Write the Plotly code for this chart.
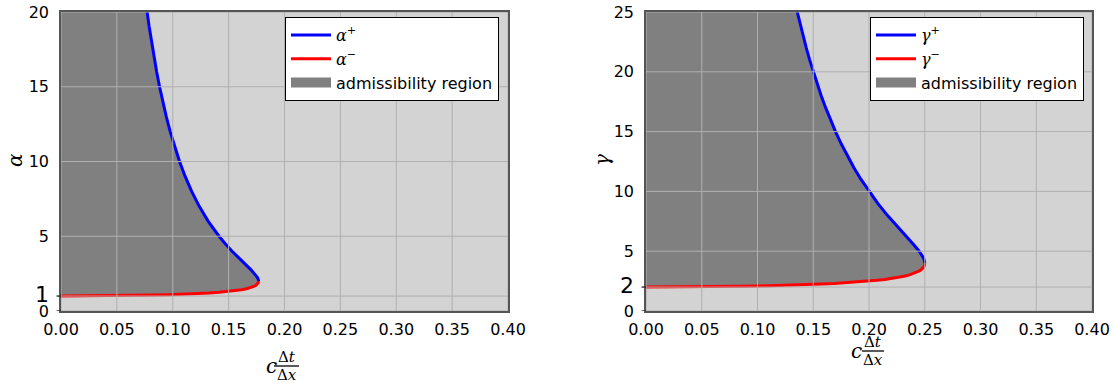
import plotly.graph_objects as go

# ---------------- data ----------------
# left panel: alpha^- (lower branch) and alpha^+ (upper branch) vs c*dt/dx
c_alpha_minus = [0.0, 0.01763, 0.03501, 0.05187, 0.06799, 0.08319, 0.09731, 0.11024,
                 0.12191, 0.13231, 0.14142, 0.14930, 0.15598, 0.16155, 0.16610, 0.16971,
                 0.17247, 0.17447, 0.17580, 0.17655, 0.17678]
alpha_minus = [1.0, 1.0025, 1.01, 1.0225, 1.04, 1.0625, 1.09, 1.1225, 1.16, 1.2025, 1.25,
               1.3025, 1.36, 1.4225, 1.49, 1.5625, 1.64, 1.7225, 1.81, 1.9025, 2.0]
c_alpha_plus = [0.17678, 0.17673, 0.17658, 0.17568, 0.17320, 0.17007, 0.16667, 0.15972,
                0.15309, 0.14699, 0.14142, 0.13176, 0.12372, 0.11693, 0.11111, 0.10607,
                0.10164, 0.09772, 0.09421, 0.09105, 0.08819, 0.08558, 0.08319, 0.08099,
                0.07895, 0.07706]
alpha_plus = [2.0, 2.05, 2.1, 2.25, 2.5, 2.75, 3.0, 3.5, 4.0, 4.5, 5.0, 6.0, 7.0, 8.0, 9.0,
              10.0, 11.0, 12.0, 13.0, 14.0, 15.0, 16.0, 17.0, 18.0, 19.0, 20.0]

# right panel: gamma^- and gamma^+ vs c*dt/dx
c_gamma_minus = [0.0, 0.01766, 0.03518, 0.05244, 0.06932, 0.08571, 0.10150, 0.11660,
                 0.13095, 0.14447, 0.15713, 0.16891, 0.17977, 0.18973, 0.19878, 0.20696,
                 0.21427, 0.22077, 0.22648, 0.23144, 0.23570, 0.23931, 0.24231, 0.24475,
                 0.24666, 0.24811, 0.24912, 0.24973, 0.24999, 0.25]
gamma_minus = [2.0, 2.0025, 2.01, 2.0225, 2.04, 2.0625, 2.09, 2.1225, 2.16, 2.2025, 2.25,
               2.3025, 2.36, 2.4225, 2.49, 2.5625, 2.64, 2.7225, 2.81, 2.9025, 3.0, 3.1025,
               3.21, 3.3225, 3.44, 3.5625, 3.69, 3.8225, 3.96, 4.0]
c_gamma_plus = [0.25, 0.24957, 0.24845, 0.24495, 0.24053, 0.23570, 0.22588, 0.21651,
                0.20787, 0.2, 0.19285, 0.18634, 0.18040, 0.17496, 0.16997, 0.16536,
                0.16109, 0.15713, 0.15345, 0.15, 0.14677, 0.14374, 0.14089, 0.13819, 0.13565]
gamma_plus = [4.0, 4.25, 4.5, 5.0, 5.5, 6.0, 7.0, 8.0, 9.0, 10.0, 11.0, 12.0, 13.0, 14.0,
              15.0, 16.0, 17.0, 18.0, 19.0, 20.0, 21.0, 22.0, 23.0, 24.0, 25.0]

x_ticks = [0.0, 0.05, 0.10, 0.15, 0.20, 0.25, 0.30, 0.35, 0.40]
x_ticklabels = ["0.00", "0.05", "0.10", "0.15", "0.20", "0.25", "0.30", "0.35", "0.40"]
alpha_ticks = [0, 1, 5, 10, 15, 20]
gamma_ticks = [0, 2, 5, 10, 15, 20, 25]
alpha_marked = [0, 1]
gamma_marked = [0, 2]
alpha_max = 20
gamma_max = 25

# ---------------- styling ----------------
W, H = 1114, 383
BG = "#d3d3d3"
FILL = "#808080"
GRID = "#b0b0b0"
SPINE = "#555555"
TICKFONT = dict(family="DejaVu Sans", size=16, color="black")
SERIF = "DejaVu Serif"


def px(x):
    return x / W


def py(y):
    return 1 - y / H


fig = go.Figure()


def add_panel(xa, ya, c_minus, v_minus, c_plus, v_plus, vmax, sym, legend):
    poly_x = c_minus + c_plus[1:] + [0.0]
    poly_y = v_minus + v_plus[1:] + [vmax]
    fig.add_trace(go.Scatter(x=poly_x, y=poly_y, fill="toself", fillcolor=FILL,
                             mode="lines", line=dict(width=0, color=FILL),
                             showlegend=False, xaxis=xa, yaxis=ya, hoverinfo="skip"))
    fig.add_trace(go.Scatter(x=c_plus, y=v_plus, mode="lines",
                             line=dict(color="#0000ff", width=3),
                             name=f"<span style='font-family:{SERIF}'><i>{sym}</i><sup>+</sup></span>",
                             legendrank=1, xaxis=xa, yaxis=ya, legend=legend))
    fig.add_trace(go.Scatter(x=c_minus, y=v_minus, mode="lines",
                             line=dict(color="#ff0000", width=3),
                             name=f"<span style='font-family:{SERIF}'><i>{sym}</i><sup>−</sup></span>",
                             legendrank=2, xaxis=xa, yaxis=ya, legend=legend))
    # legend key for the filled region (patch-like swatch)
    fig.add_trace(go.Scatter(x=[None], y=[None], mode="lines",
                             line=dict(color=FILL, width=14),
                             name="admissibility region", legendrank=3,
                             xaxis=xa, yaxis=ya, legend=legend, hoverinfo="skip"))


add_panel("x", "y", c_alpha_minus, alpha_minus, c_alpha_plus, alpha_plus, alpha_max, "α", "legend")
add_panel("x2", "y2", c_gamma_minus, gamma_minus, c_gamma_plus, gamma_plus, gamma_max, "γ", "legend2")

# grid lines drawn above the filled region
shapes = []
for xr, yr, yt, marked in (("x", "y", alpha_ticks, alpha_marked),
                           ("x2", "y2", gamma_ticks, gamma_marked)):
    for xv in x_ticks:
        shapes.append(dict(type="line", xref=xr, yref=yr + " domain", x0=xv, x1=xv, y0=0, y1=1,
                           line=dict(color=GRID, width=1), layer="above"))
    for yv in yt:
        shapes.append(dict(type="line", xref=xr + " domain", yref=yr, x0=0, x1=1, y0=yv, y1=yv,
                           line=dict(color=GRID, width=1), layer="above"))
    # small outward tick marks
    for yv in marked:
        shapes.append(dict(type="line", xref=xr + " domain", yref=yr, x0=-0.010, x1=0,
                           y0=yv, y1=yv, line=dict(color="#222222", width=1.3), layer="above"))

# fraction bars of the x-axis labels
shapes.append(dict(type="line", xref="paper", yref="paper", x0=px(274), x1=px(299),
                   y0=py(366), y1=py(366), line=dict(color="black", width=1.3)))
shapes.append(dict(type="line", xref="paper", yref="paper", x0=px(862), x1=px(884),
                   y0=py(351), y1=py(351), line=dict(color="black", width=1.3)))


def ticktext(vals, big):
    out = []
    for v in vals:
        if v == big:
            out.append(f"<span style='font-size:22px'>{v}</span>")
        else:
            out.append(str(v))
    return out


axis_common = dict(showgrid=False, zeroline=False, showline=True, mirror=True,
                   linecolor=SPINE, linewidth=1.5, ticks="", tickfont=TICKFONT,
                   automargin=False)

fig.update_layout(
    width=W, height=H,
    margin=dict(l=0, r=0, t=0, b=0),
    paper_bgcolor="white",
    plot_bgcolor=BG,
    showlegend=True,
    xaxis=dict(domain=[px(61), px(508)], range=[0, 0.4], tickvals=x_ticks,
               ticktext=x_ticklabels, anchor="y", ticklabelstandoff=3, **axis_common),
    yaxis=dict(domain=[py(311), py(12)], range=[0, alpha_max], tickvals=alpha_ticks,
               ticktext=ticktext(alpha_ticks, 1), anchor="x", ticklabelstandoff=7,
               **axis_common),
    xaxis2=dict(domain=[px(646), px(1092)], range=[0, 0.4], tickvals=x_ticks,
                ticktext=x_ticklabels, anchor="y2", ticklabelstandoff=3, **axis_common),
    yaxis2=dict(domain=[py(311), py(12)], range=[0, gamma_max], tickvals=gamma_ticks,
                ticktext=ticktext(gamma_ticks, 2), anchor="x2", ticklabelstandoff=7,
                **axis_common),
    legend=dict(x=px(285), y=py(17), xanchor="left", yanchor="top", bgcolor="white",
                bordercolor="black", borderwidth=1, itemwidth=40,
                font=dict(family="DejaVu Sans", size=16, color="black"),
                traceorder="normal"),
    legend2=dict(x=px(870), y=py(17), xanchor="left", yanchor="top", bgcolor="white",
                 bordercolor="black", borderwidth=1, itemwidth=40,
                 font=dict(family="DejaVu Sans", size=16, color="black"),
                 traceorder="normal"),
    shapes=shapes,
)

ann = []
# y-axis titles
ann.append(dict(text="<i>α</i>", x=px(15), y=py(160), xref="paper", yref="paper",
                xanchor="center", yanchor="middle",
                showarrow=False, textangle=-90, font=dict(family=SERIF, size=20, color="black")))
ann.append(dict(text="<i>γ</i>", x=px(602), y=py(160), xref="paper", yref="paper",
                xanchor="center", yanchor="middle",
                showarrow=False, textangle=-90, font=dict(family=SERIF, size=20, color="black")))
# x-axis titles  c * (Δt / Δx)
for cx, cy, nx, ny, dy in ((271, 366, 287, 357, 375), (856, 351, 873, 342, 360)):
    ann.append(dict(text="<i>c</i>", x=px(cx), y=py(cy), xref="paper", yref="paper",
                    xanchor="center", yanchor="middle",
                    showarrow=False, font=dict(family=SERIF, size=20, color="black")))
    ann.append(dict(text="Δ<i>t</i>", x=px(nx), y=py(ny), xref="paper", yref="paper",
                    xanchor="center", yanchor="middle",
                    showarrow=False, font=dict(family=SERIF, size=15, color="black")))
    ann.append(dict(text="Δ<i>x</i>", x=px(nx), y=py(dy), xref="paper", yref="paper",
                    xanchor="center", yanchor="middle",
                    showarrow=False, font=dict(family=SERIF, size=15, color="black")))
fig.update_layout(annotations=ann)

fig.write_html("out.html")
